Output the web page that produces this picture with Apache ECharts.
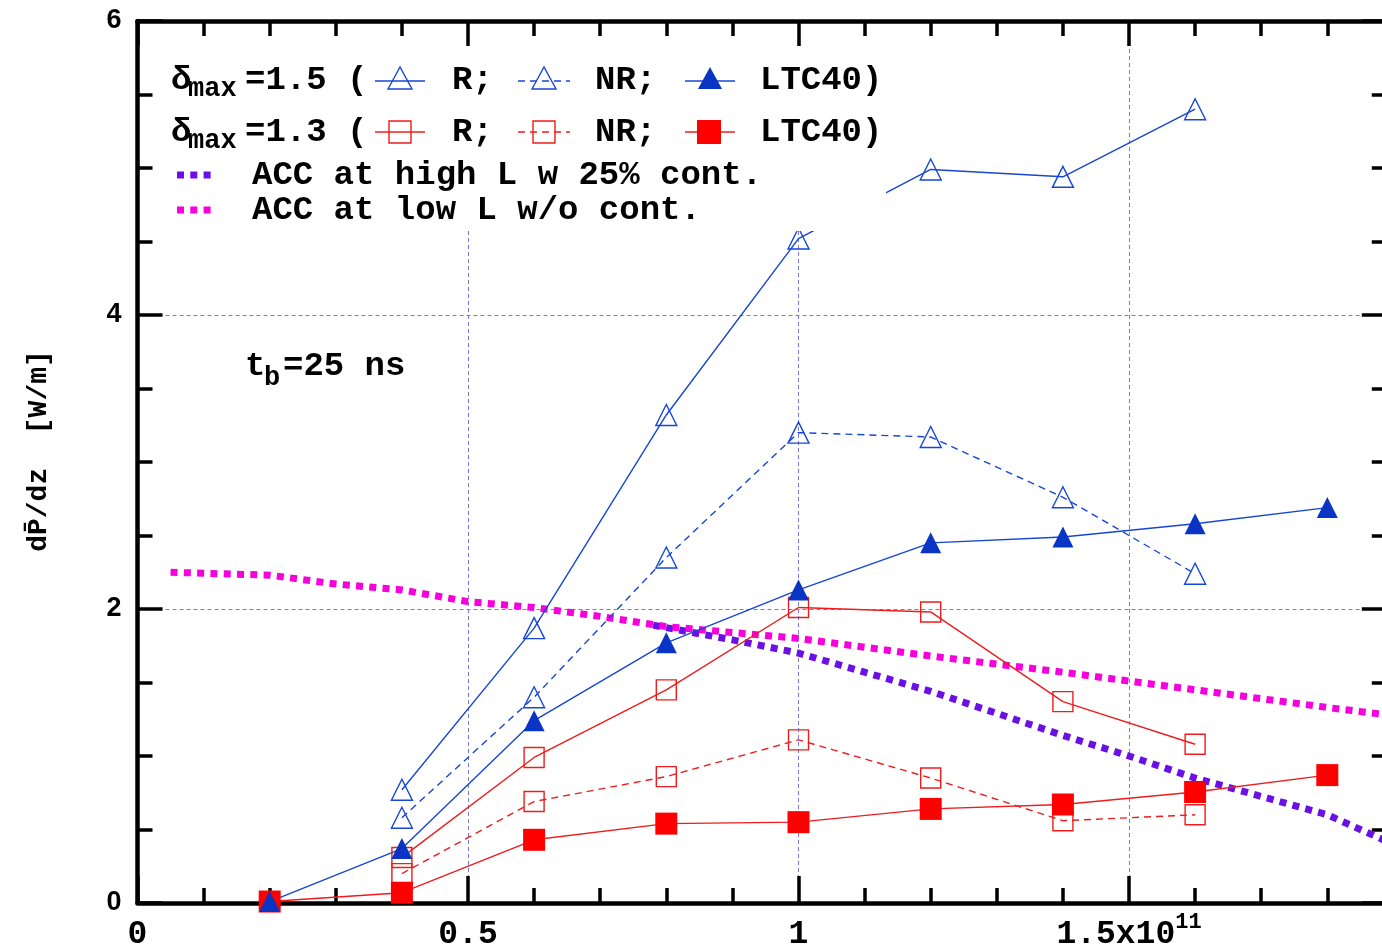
<!DOCTYPE html>
<html>
<head>
<meta charset="utf-8">
<script src="https://cdn.jsdelivr.net/npm/echarts@6/dist/echarts.min.js"></script>
<style>
  html, body { margin: 0; padding: 0; overflow: hidden; background: #fff; }
  #chart { width: 1400px; height: 949px; }
</style>
</head>
<body>
<div id="chart"></div>
<script>
// Bunch population N (units of 1e11) and heat load dP/dz [W/m], t_b = 25 ns
const N_R   = [0.4, 0.6, 0.8, 1.0, 1.2, 1.4, 1.6];
const N_LTC = [0.2, 0.4, 0.6, 0.8, 1.0, 1.2, 1.4, 1.6, 1.8];

// delta_max = 1.5
const d15_R   = [0.77, 1.87, 3.32, 4.52, 4.99, 4.94, 5.40];
const d15_NR  = [0.58, 1.40, 2.35, 3.20, 3.17, 2.76, 2.24];
const d15_LTC = [0.01, 0.37, 1.24, 1.77, 2.13, 2.45, 2.49, 2.58, 2.69];

// delta_max = 1.3
const d13_R   = [0.31, 0.99, 1.45, 2.01, 1.98, 1.37, 1.08];
const d13_NR  = [0.20, 0.69, 0.86, 1.11, 0.85, 0.56, 0.60];
const d13_LTC = [0.01, 0.07, 0.43, 0.54, 0.55, 0.64, 0.67, 0.755, 0.87];

// available cooling capacity
const N_accLow  = [0.05, 0.2, 0.3, 0.4, 0.5, 0.6, 0.7, 0.8, 0.9, 1.0, 1.2, 1.4, 1.6, 1.8, 1.89];
const accLow    = [2.25, 2.23, 2.17, 2.13, 2.05, 2.01, 1.95, 1.88, 1.84, 1.80, 1.68, 1.57, 1.45, 1.33, 1.28];
const N_accHigh = [0.78, 0.9, 1.0, 1.1, 1.2, 1.4, 1.5, 1.6, 1.8, 1.89];
const accHigh   = [1.89, 1.79, 1.70, 1.57, 1.44, 1.14, 1.00, 0.85, 0.60, 0.42];

const MONO = "'Liberation Mono','DejaVu Sans Mono',monospace";
const SANS = "'Liberation Sans','DejaVu Sans',sans-serif";
const BLUE = '#1646d6';
const BLUE_FILL = '#0a34c4';
const RED = '#ee1c1c';
const RED_FILL = '#ff0000';
const PURPLE = '#6a10e4';
const MAGENTA = '#f600dc';
const GRID = '#7a7ad6';
const OPEN = 'rgba(255,255,255,0)';

function pairs(xs, ys) { return xs.map((x, i) => [x, ys[i]]); }

function dataSeries(name, xs, ys, color, dashed, symbol, size, filled, fillColor) {
  return {
    name, type: 'line', data: pairs(xs, ys),
    symbol, symbolSize: size, showAllSymbol: true,
    lineStyle: { color, width: 1.4, type: dashed ? [7, 5] : 'solid' },
    itemStyle: filled ? { color: fillColor, borderWidth: 0 }
                      : { color: OPEN, borderColor: color, borderWidth: 1.4 },
    emphasis: { disabled: true }, silent: true, z: 3
  };
}

function accSeries(name, xs, ys, color) {
  return {
    name, type: 'line', data: pairs(xs, ys), symbol: 'none',
    lineStyle: { color, width: 7, type: [7, 6.3], cap: 'butt', join: 'miter' },
    emphasis: { disabled: true }, silent: true, z: 2
  };
}

const tickCommon = (len) => ({ show: true, inside: true, length: len, lineStyle: { color: '#000', width: 3.5 } });

function xAxisDef(position, interval, tickLen, withLabels, withGrid, withLine) {
  return {
    type: 'value', position, min: 0, max: 1.89, interval,
    axisLine: { show: withLine, onZero: false, lineStyle: { color: '#000', width: 4.5 } },
    axisTick: tickCommon(tickLen),
    axisLabel: withLabels ? {
      show: true, margin: 8, showMaxLabel: false,
      formatter: v => (Math.abs(v - 1.5) < 1e-9 ? '{m|1.5x10}{s|11}' : '{m|' + v + '}'),
      rich: {
        m: { fontFamily: MONO, fontWeight: 'bold', fontSize: 33, color: '#000', lineHeight: 48 },
        s: { fontFamily: MONO, fontWeight: 'bold', fontSize: 22, color: '#000', verticalAlign: 'top' }
      }
    } : { show: false },
    splitLine: withGrid ? { show: true, showMinLine: false, showMaxLine: false,
      lineStyle: { color: GRID, width: 1, type: [4, 3] } } : { show: false }
  };
}

function yAxisDef(position, withLabels, withGrid) {
  return {
    type: 'value', position, min: 0, max: 6, interval: 2,
    axisLine: { show: true, onZero: false, lineStyle: { color: '#000', width: 4.5 } },
    axisTick: tickCommon(25),
    minorTick: { show: true, splitNumber: 4, length: 15, lineStyle: { color: '#000', width: 3.5 } },
    axisLabel: withLabels ? { show: true, margin: 16, fontFamily: SANS, fontWeight: 'bold', fontSize: 27, color: '#000', padding: [4, 0, 0, 0] } : { show: false },
    splitLine: withGrid ? { show: true, showMinLine: false, showMaxLine: false,
      lineStyle: { color: GRID, width: 1, type: [4, 3] } } : { show: false }
  };
}

// legend drawn as a white panel with key samples
function txt(x, y, s, size) {
  return { type: 'text', z: 101, style: { x, y, text: s, fontFamily: MONO, fontWeight: 'bold', fontSize: size, fill: '#000', align: 'left', verticalAlign: 'middle' } };
}
function seg(x1, x2, y, color, dash) {
  return { type: 'line', z: 101, shape: { x1, y1: y, x2, y2: y }, style: { stroke: color, lineWidth: 1.4, lineDash: dash || null } };
}
function tri(cx, cy, color, filled) {
  return { type: 'polygon', z: 102, shape: { points: [[cx, cy - 13], [cx - 12, cy + 9], [cx + 12, cy + 9]] },
    style: filled ? { fill: color } : { fill: OPEN, stroke: color, lineWidth: 1.4 } };
}
function sq(cx, cy, color, filled) {
  const h = filled ? 12 : 11;
  return { type: 'rect', z: 102, shape: { x: cx - h, y: cy - h, width: 2 * h, height: 2 * h },
    style: filled ? { fill: color } : { fill: OPEN, stroke: color, lineWidth: 1.4 } };
}
function dots(x1, x2, y, color) {
  return { type: 'line', z: 101, shape: { x1, y1: y, x2, y2: y }, style: { stroke: color, lineWidth: 7, lineDash: [7, 6.3], lineCap: 'butt' } };
}

const r1 = 80, r2 = 132, r3 = 175, r4 = 210;
const legendGraphics = [
  { type: 'rect', z: 100, shape: { x: 160, y: 48, width: 726, height: 183 }, style: { fill: '#fff' } },
  txt(171, r1, 'δ', 34), txt(188, r1 + 9, 'max', 27), txt(245, r1, '=1.5 (', 34),
  seg(375, 425, r1 + 1, BLUE), tri(400, r1, BLUE, false), txt(452, r1, 'R;', 34),
  seg(518, 570, r1 + 1, BLUE, [7, 5]), tri(544, r1, BLUE, false), txt(595, r1, 'NR;', 34),
  seg(685, 735, r1 + 1, BLUE), tri(710, r1, BLUE_FILL, true), txt(760, r1, 'LTC40)', 34),
  txt(171, r2, 'δ', 34), txt(188, r2 + 9, 'max', 27), txt(245, r2, '=1.3 (', 34),
  seg(375, 425, r2, RED), sq(400, r2, RED, false), txt(452, r2, 'R;', 34),
  seg(518, 570, r2, RED, [7, 5]), sq(544, r2, RED, false), txt(595, r2, 'NR;', 34),
  seg(685, 735, r2, RED), sq(709, r2, RED_FILL, true), txt(760, r2, 'LTC40)', 34),
  dots(177, 216, r3, PURPLE), txt(252, r3, 'ACC at high L w 25% cont.', 34),
  dots(177, 216, r4, MAGENTA), txt(252, r4, 'ACC at low L w/o cont.', 34)
];

const otherGraphics = [
  // bunch spacing annotation
  txt(245, 366, 't', 34), txt(264, 378, 'b', 27), txt(283, 366, '=25 ns', 34),
  // y-axis title
  { type: 'text', z: 101, x: 39, y: 451, rotation: Math.PI / 2,
    style: { x: 0, y: 0, text: 'dP\u0304/dz  [W/m]', fontFamily: MONO, fontWeight: 'bold', fontSize: 28, fill: '#000', align: 'center', verticalAlign: 'middle' } }
];

const chart = echarts.init(document.getElementById('chart'), null, { renderer: 'canvas' });
chart.setOption({
  animation: false,
  backgroundColor: '#fff',
  grid: { left: 137.5, right: 13.2, top: 21, bottom: 46, containLabel: false, outerBoundsMode: 'none' },
  xAxis: [
    xAxisDef('bottom', 0.5, 27, true, true, true),
    xAxisDef('bottom', 0.1, 15, false, false, false),
    xAxisDef('top', 0.5, 25, false, false, true),
    xAxisDef('top', 0.1, 15, false, false, false)
  ],
  yAxis: [
    yAxisDef('left', true, true),
    yAxisDef('right', false, false)
  ],
  series: [
    accSeries('ACC at high L w 25% cont.', N_accHigh, accHigh, PURPLE),
    accSeries('ACC at low L w/o cont.', N_accLow, accLow, MAGENTA),
    dataSeries('δmax=1.3 R', N_R, d13_R, RED, false, 'rect', 20, false),
    dataSeries('δmax=1.3 NR', N_R, d13_NR, RED, true, 'rect', 20, false),
    dataSeries('δmax=1.3 LTC40', N_LTC, d13_LTC, RED, false, 'rect', 22, true, RED_FILL),
    dataSeries('δmax=1.5 R', N_R, d15_R, BLUE, false, 'triangle', 21, false),
    dataSeries('δmax=1.5 NR', N_R, d15_NR, BLUE, true, 'triangle', 21, false),
    dataSeries('δmax=1.5 LTC40', N_LTC, d15_LTC, BLUE, false, 'triangle', 21, true, BLUE_FILL)
  ],
  graphic: { elements: legendGraphics.concat(otherGraphics) }
});
</script>
</body>
</html>
